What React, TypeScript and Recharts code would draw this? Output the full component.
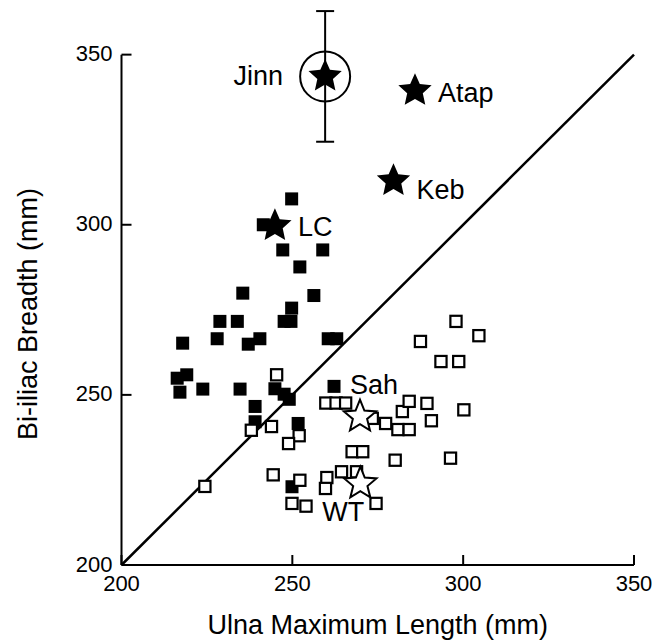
import React from "react";
import { ErrorBar, ReferenceLine, Scatter, ScatterChart, XAxis, YAxis } from "recharts";

// [ulna length, bi-iliac breadth] in mm
const filledSquares: [number, number][] = [
  [249.8, 307.6], [241.5, 300.0], [247.2, 292.6], [258.9, 292.6], [252.2, 287.6],
  [235.5, 279.9], [256.3, 279.2], [249.8, 275.5], [247.6, 271.6], [249.6, 271.6],
  [228.8, 271.6], [233.9, 271.6], [228.0, 266.5], [217.9, 265.2], [237.1, 264.9],
  [240.5, 266.5], [260.5, 266.5], [263.0, 266.5], [216.3, 254.9], [219.1, 255.9],
  [217.1, 250.8], [223.8, 251.7], [234.7, 251.7], [244.9, 251.8], [247.6, 250.2],
  [249.1, 248.7], [262.2, 252.5], [239.1, 246.6], [239.1, 242.1], [251.7, 241.6],
  [249.9, 223.0],
];

const openSquares: [number, number][] = [
  [245.4, 255.9], [238.0, 239.6], [243.9, 240.7], [252.0, 238.0], [248.9, 235.7],
  [259.8, 247.6], [262.8, 247.6], [265.6, 247.6], [273.4, 243.1], [277.3, 241.6],
  [280.9, 239.8], [284.2, 239.8], [282.2, 245.1], [284.2, 248.1], [289.4, 247.5],
  [290.7, 242.4], [300.2, 245.6], [296.3, 231.4], [280.1, 230.8], [267.5, 233.3],
  [270.6, 233.3], [287.5, 265.7], [293.5, 259.8], [298.7, 259.8], [297.9, 271.6],
  [304.6, 267.4], [224.4, 223.1], [244.4, 226.5], [252.2, 224.9], [249.9, 218.1],
  [254.0, 217.3], [260.1, 225.7], [259.7, 222.5], [264.4, 227.4], [268.8, 227.4],
  [274.5, 218.1],
];

const fossilNames = ["Atap", "Keb", "LC"];
const fossilUlna = [285.9, 279.6, 244.9];
const fossilBiiliac = [339.4, 312.9, 299.7];

const jinnUlna = 259.6;
const jinnBiiliac = 343.6;
const jinnError = 19.2;

const modernNames = ["Sah", "WT"];
const modernUlna = [269.8, 269.9];
const modernBiiliac = [243.6, 223.9];

const xTicks = [200, 250, 300, 350];
const yTicks = [200, 250, 300, 350];

const font = "'Liberation Sans', Arial, sans-serif";

const toPoints = (pts: [number, number][]) => pts.map(([x, y]) => ({ x, y }));

const fossilData = fossilNames.map((name, i) => ({ name, x: fossilUlna[i], y: fossilBiiliac[i] }));
const modernData = modernNames.map((name, i) => ({ name, x: modernUlna[i], y: modernBiiliac[i] }));
const jinnData = [{ name: "Jinn", x: jinnUlna, y: jinnBiiliac, err: jinnError }];

// label placement next to each star: dx, dy (baseline), anchor
const labelPos: Record<string, [number, number, "start" | "end"]> = {
  Jinn: [-42, 9, "end"],
  Atap: [23, 11, "start"],
  Keb: [23, 18, "start"],
  LC: [23, 10, "start"],
  Sah: [-10, -23, "start"],
  WT: [-38, 37, "start"],
};

function starPath(cx: number, cy: number, R: number, r: number) {
  let d = "";
  for (let i = 0; i < 10; i++) {
    const rad = i % 2 === 0 ? R : r;
    const a = -Math.PI / 2 + (i * Math.PI) / 5;
    d += (i === 0 ? "M" : "L") + (cx + rad * Math.cos(a)).toFixed(2) + "," + (cy + rad * Math.sin(a)).toFixed(2);
  }
  return d + "Z";
}

function StarLabel({ name, cx, cy }: { name: string; cx: number; cy: number }) {
  const p = labelPos[name];
  if (!p) return null;
  return (
    <text x={cx + p[0]} y={cy + p[1]} textAnchor={p[2]} fontSize={27} fontFamily={font} fill="#000">
      {name}
    </text>
  );
}

const FilledSquare = (props: any) => (
  <rect x={props.cx - 6.5} y={props.cy - 6.5} width={13} height={13} fill="#000" />
);

const OpenSquare = (props: any) => (
  <rect x={props.cx - 5.6} y={props.cy - 5.6} width={11.2} height={11.2} fill="#fff" stroke="#000" strokeWidth={2.2} />
);

const FilledStar = (props: any) => (
  <g>
    <path d={starPath(props.cx, props.cy, 17.5, 8.2)} fill="#000" />
    <StarLabel name={props.payload.name} cx={props.cx} cy={props.cy} />
  </g>
);

const OpenStar = (props: any) => (
  <g>
    <path d={starPath(props.cx, props.cy, 17, 7.5)} fill="#fff" stroke="#000" strokeWidth={2} strokeLinejoin="miter" />
    <StarLabel name={props.payload.name} cx={props.cx} cy={props.cy} />
  </g>
);

const JinnStar = (props: any) => (
  <g>
    <circle cx={props.cx} cy={props.cy} r={25} fill="none" stroke="#000" strokeWidth={2} />
    <path d={starPath(props.cx, props.cy, 17.5, 8.2)} fill="#000" />
    <StarLabel name={props.payload.name} cx={props.cx} cy={props.cy} />
  </g>
);

const XTick = (props: any) => (
  <g>
    <line x1={props.x} y1={props.y} x2={props.x} y2={props.y - 10} stroke="#000" strokeWidth={2} />
    <text x={props.x} y={props.y + 10} dy="0.71em" textAnchor="middle" fontSize={22} fontFamily={font} fill="#000">
      {props.payload.value}
    </text>
  </g>
);

const YTick = (props: any) => (
  <g>
    <line x1={props.x} y1={props.y} x2={props.x + 10} y2={props.y} stroke="#000" strokeWidth={2} />
    <text x={props.x - 9} y={props.y} dy="0.3em" textAnchor="end" fontSize={22} fontFamily={font} fill="#000">
      {props.payload.value}
    </text>
  </g>
);

export default function App() {
  return (
    <div style={{ marginTop: -8, width: 650, height: 641 }}>
      <ScatterChart width={650} height={641} margin={{ top: 7, right: 24, bottom: 0, left: 0 }}>
        <XAxis
          type="number"
          dataKey="x"
          domain={[200, 350]}
          ticks={xTicks}
          height={76}
          tickSize={0}
          tickMargin={0}
          tickLine={false}
          tick={XTick}
          axisLine={{ stroke: "#000", strokeWidth: 2 }}
          label={{
            content: () => (
              <text x={369.75} y={634} textAnchor="middle" fontSize={27} fontFamily={font} fill="#000">
                Ulna Maximum Length (mm)
              </text>
            ),
          }}
        />
        <YAxis
          type="number"
          dataKey="y"
          domain={[200, 364]}
          ticks={yTicks}
          width={113.5}
          tickSize={0}
          tickMargin={0}
          tickLine={false}
          tick={YTick}
          axisLine={false}
          label={{
            content: () => (
              <text
                x={20}
                y={314}
                transform="rotate(-90, 20, 314)"
                textAnchor="middle"
                dominantBaseline="central"
                fontSize={27}
                fontFamily={font}
                fill="#000"
              >
                Bi-iliac Breadth (mm)
              </text>
            ),
          }}
        />
        <ReferenceLine segment={[{ x: 200, y: 200 }, { x: 200, y: 350 }]} stroke="#000" strokeWidth={2} />
        <ReferenceLine segment={[{ x: 200, y: 200 }, { x: 350, y: 350 }]} stroke="#000" strokeWidth={2.5} />
        <Scatter data={toPoints(filledSquares)} shape={FilledSquare} isAnimationActive={false} />
        <Scatter data={toPoints(openSquares)} shape={OpenSquare} isAnimationActive={false} />
        <Scatter data={jinnData} shape={JinnStar} isAnimationActive={false}>
          <ErrorBar dataKey="err" direction="y" width={9} stroke="#000" strokeWidth={2} isAnimationActive={false} />
        </Scatter>
        <Scatter data={fossilData} shape={FilledStar} isAnimationActive={false} />
        <Scatter data={modernData} shape={OpenStar} isAnimationActive={false} />
      </ScatterChart>
    </div>
  );
}
